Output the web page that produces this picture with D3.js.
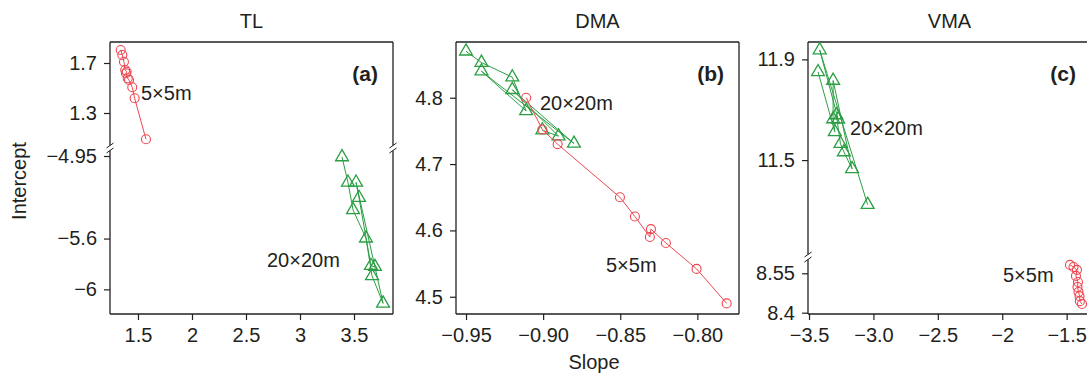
<!DOCTYPE html>
<html>
<head>
<meta charset="utf-8">
<script src="https://cdn.jsdelivr.net/npm/d3@7"></script>
<style>
  html, body { margin: 0; padding: 0; background: #fff; }
  svg { display: block; font-family: "Liberation Sans", Arial, sans-serif; }
</style>
</head>
<body>
<svg id="chart" width="1087" height="373"></svg>
<script>
// ---------------- DATA ----------------
const panelTitles = ["TL", "DMA", "VMA"];
const panelTags = ["(a)", "(b)", "(c)"];

// TL panel (slope, intercept)
const tlFine = [ // 5×5m
  [1.340, 1.804], [1.355, 1.764], [1.370, 1.710], [1.382, 1.644], [1.395, 1.630],
  [1.389, 1.618], [1.405, 1.578], [1.417, 1.564], [1.447, 1.506], [1.469, 1.418], [1.574, 1.090]
];
const tlCoarse = [ // 20×20m
  [3.389, -4.958], [3.444, -5.158], [3.491, -5.374], [3.611, -5.598], [3.667, -5.894],
  [3.769, -6.110], [3.519, -5.158], [3.546, -5.278], [3.657, -5.814], [3.694, -5.822]
];

// DMA panel
const dmaFine = [ // 5×5m
  [-0.911, 4.800], [-0.9005, 4.752], [-0.8906, 4.730], [-0.8502, 4.650], [-0.8405, 4.621],
  [-0.8308, 4.590], [-0.8301, 4.602], [-0.8204, 4.581], [-0.8005, 4.542], [-0.7810, 4.490]
];
const dmaCoarse = [ // 20×20m
  [-0.950, 4.870], [-0.940, 4.853], [-0.920, 4.831], [-0.911, 4.780], [-0.940, 4.840],
  [-0.880, 4.731], [-0.920, 4.812], [-0.890, 4.742], [-0.9005, 4.751]
];

// VMA panel
const vmaFine = [ // 5×5m
  [-1.474, 8.582], [-1.447, 8.574], [-1.420, 8.563], [-1.428, 8.540], [-1.412, 8.517],
  [-1.416, 8.498], [-1.408, 8.479], [-1.400, 8.463], [-1.397, 8.444], [-1.381, 8.433]
];
const vmaCoarse = [ // 20×20m
  [-3.430, 11.850], [-3.300, 11.612], [-3.313, 11.663], [-3.313, 11.816], [-3.166, 11.465],
  [-3.229, 11.532], [-3.256, 11.565], [-3.288, 11.679], [-3.274, 11.662], [-3.417, 11.937],
  [-3.045, 11.323]
];

// Tick values and labels
const tlXTicks = [1.5, 2, 2.5, 3, 3.5];
const tlXLabels = ["1.5", "2", "2.5", "3", "3.5"];
const tlYTicks = [1.7, 1.3, -4.95, -5.6, -6];
const tlYLabels = ["1.7", "1.3", "\u22124.95", "\u22125.6", "\u22126"];

const dmaXTicks = [-0.95, -0.90, -0.85, -0.80];
const dmaXLabels = ["\u22120.95", "\u22120.90", "\u22120.85", "\u22120.80"];
const dmaYTicks = [4.8, 4.7, 4.6, 4.5];
const dmaYLabels = ["4.8", "4.7", "4.6", "4.5"];

const vmaXTicks = [-3.5, -3.0, -2.5, -2, -1.5];
const vmaXLabels = ["\u22123.5", "\u22123.0", "\u22122.5", "\u22122", "\u22121.5"];
const vmaYTicks = [11.9, 11.5, 8.55, 8.4];
const vmaYLabels = ["11.9", "11.5", "8.55", "8.4"];

const seriesNames = ["5\u00d75m", "20\u00d720m"];

// ---------------- LAYOUT ----------------
const svg = d3.select("#chart");
const plotTop = 42, plotBottom = 314, pw = 283;
const red = "#ee4650", green = "#2b9e43", ink = "#231f20";
const FS = 20;

const panels = [
  {
    left: 110, title: panelTitles[0], tag: panelTags[0],
    xDomain: [1.241, 3.861],
    yDomain: [-6.194, -4.887, 1.02, 1.868], breakY: 148,
    xTicks: tlXTicks, xLabels: tlXLabels, yTicks: tlYTicks, yLabels: tlYLabels,
    fine: tlFine, coarse: tlCoarse, breakRight: true,
    fineLabel: [141, 100, "start"], coarseLabel: [267, 267, "start"]
  },
  {
    left: 456, title: panelTitles[1], tag: panelTags[1],
    xDomain: [-0.9565, -0.773],
    yDomain: [4.474, 4.884], breakY: null,
    xTicks: dmaXTicks, xLabels: dmaXLabels, yTicks: dmaYTicks, yLabels: dmaYLabels,
    fine: dmaFine, coarse: dmaCoarse,
    fineLabel: [606, 272, "start"], coarseLabel: [540, 110, "start"]
  },
  {
    left: 808, title: panelTitles[2], tag: panelTags[2],
    xDomain: [-3.508, -1.311],
    yDomain: [8.395, 8.612, 11.115, 11.969], breakY: 257,
    xTicks: vmaXTicks, xLabels: vmaXLabels, yTicks: vmaYTicks, yLabels: vmaYLabels,
    fine: vmaFine, coarse: vmaCoarse, breakRight: false,
    fineLabel: [1003, 282, "start"], coarseLabel: [850, 135, "start"]
  }
];

panels.forEach(p => {
  const x0 = p.left, x1 = p.left + pw;
  const x = d3.scaleLinear().domain(p.xDomain).range([x0, x1]);
  let y;
  if (p.breakY) {
    y = d3.scaleLinear().domain(p.yDomain).range([plotBottom, p.breakY, p.breakY, plotTop]);
  } else {
    y = d3.scaleLinear().domain(p.yDomain).range([plotBottom, plotTop]);
  }
  const g = svg.append("g");

  // axes (ticks + labels)
  const xa = g.append("g").attr("transform", `translate(0,${plotBottom})`)
    .call(d3.axisBottom(x).tickValues(p.xTicks)
      .tickFormat((d, i) => p.xLabels[i]).tickSize(6).tickPadding(8));
  const ya = g.append("g").attr("transform", `translate(${x0},0)`)
    .call(d3.axisLeft(y).tickValues(p.yTicks)
      .tickFormat((d, i) => p.yLabels[i]).tickSize(6).tickPadding(7));
  [xa, ya].forEach(a => {
    a.select(".domain").remove();
    a.selectAll("line").attr("stroke", ink).attr("stroke-width", 1.2);
    a.selectAll("text").attr("fill", ink).style("font-size", FS + "px")
      .style("font-family", "Liberation Sans, Arial, sans-serif");
  });

  // frame
  const fr = g.append("g").attr("stroke", ink).attr("stroke-width", 1.3).attr("fill", "none");
  fr.append("line").attr("x1", x0).attr("x2", x1).attr("y1", plotTop).attr("y2", plotTop);
  fr.append("line").attr("x1", x0).attr("x2", x1).attr("y1", plotBottom).attr("y2", plotBottom);
  [x0, x1].forEach((sx, si) => {
    const broken = p.breakY && (si === 0 || p.breakRight);
    if (broken) {
      const b = p.breakY, gap = 2.5;
      fr.append("line").attr("x1", sx).attr("x2", sx).attr("y1", plotTop).attr("y2", b - gap);
      fr.append("line").attr("x1", sx).attr("x2", sx).attr("y1", b + gap).attr("y2", plotBottom);
      [b - gap, b + gap].forEach(c => {
        fr.append("line").attr("x1", sx - 3.5).attr("y1", c + 2.5)
          .attr("x2", sx + 3.5).attr("y2", c - 2.5).attr("stroke-width", 1);
      });
    } else {
      fr.append("line").attr("x1", sx).attr("x2", sx).attr("y1", plotTop).attr("y2", plotBottom);
    }
  });

  const line = d3.line().x(d => x(d[0])).y(d => y(d[1]));

  // coarse (green triangles)
  g.append("path").datum(p.coarse).attr("d", line)
    .attr("fill", "none").attr("stroke", green).attr("stroke-width", 1);
  g.selectAll(".tri").data(p.coarse).join("path").attr("class", "tri")
    .attr("transform", d => `translate(${x(d[0])},${y(d[1])})`)
    .attr("d", d3.symbol().type(d3.symbolTriangle).size(72))
    .attr("fill", "none").attr("stroke", green).attr("stroke-width", 1.3);

  // fine (red circles)
  g.append("path").datum(p.fine).attr("d", line)
    .attr("fill", "none").attr("stroke", red).attr("stroke-width", 1);
  g.selectAll(".circ").data(p.fine).join("circle").attr("class", "circ")
    .attr("cx", d => x(d[0])).attr("cy", d => y(d[1])).attr("r", 4.5)
    .attr("fill", "none").attr("stroke", red).attr("stroke-width", 1.1);

  // titles & tags
  g.append("text").attr("x", x0 + pw / 2).attr("y", 28).attr("text-anchor", "middle")
    .attr("fill", ink).style("font-size", FS + "px").text(p.title);
  g.append("text").attr("x", x0 + 268).attr("y", 81).attr("text-anchor", "end")
    .attr("fill", ink).style("font-size", "21px").style("font-weight", "bold").text(p.tag);

  // series labels
  g.append("text").attr("x", p.fineLabel[0]).attr("y", p.fineLabel[1])
    .attr("text-anchor", p.fineLabel[2]).attr("fill", ink).style("font-size", FS + "px")
    .text(seriesNames[0]);
  g.append("text").attr("x", p.coarseLabel[0]).attr("y", p.coarseLabel[1])
    .attr("text-anchor", p.coarseLabel[2]).attr("fill", ink).style("font-size", FS + "px")
    .text(seriesNames[1]);
});

// axis titles
svg.append("text").attr("transform", "translate(26,181) rotate(-90)")
  .attr("text-anchor", "middle").attr("fill", ink).style("font-size", FS + "px").text("Intercept");
svg.append("text").attr("x", 594).attr("y", 369).attr("text-anchor", "middle")
  .attr("fill", ink).style("font-size", FS + "px").text("Slope");
</script>
</body>
</html>
